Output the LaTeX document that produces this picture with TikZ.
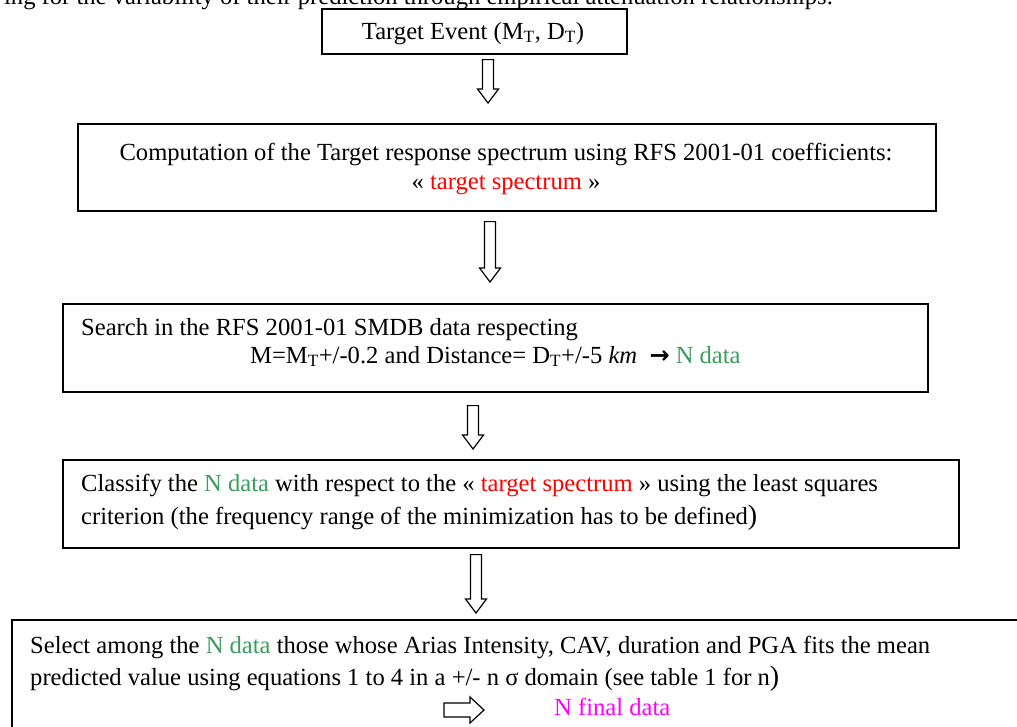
\documentclass[tikz,border=0pt]{standalone}
\usepackage{fontspec}
\setmainfont{Liberation Serif}
\newfontfamily\arrowfont{DejaVu Sans}
\usetikzlibrary{calc}
\definecolor{ngreen}{RGB}{60,155,95}
\definecolor{nred}{RGB}{255,0,0}
\definecolor{nmag}{RGB}{255,0,255}
\newcommand\Tsub{\textsubscript{T}}
\newcommand\bigparen{{\fontsize{28}{30}\selectfont)}}
% #1 x position, #2 from node, #3 to node, #4 top gap, #5 bottom gap
\newcommand\hollowdown[5]{%
  \draw[blockarrow] let \p1=(#2.south), \p2=(#3.north) in
    ({#1pt-5.5pt},{\y1-#4pt}) -- ({#1pt+5.5pt},{\y1-#4pt})
    -- ({#1pt+5.5pt},{\y2+#5pt+14pt}) -- ({#1pt+10.5pt},{\y2+#5pt+14pt})
    -- ({#1pt},{\y2+#5pt}) -- ({#1pt-10.5pt},{\y2+#5pt+14pt})
    -- ({#1pt-5.5pt},{\y2+#5pt+14pt}) -- cycle;}
\begin{document}
\begin{tikzpicture}[x=1pt,y=-1pt,
  font=\fontsize{24.6}{30}\selectfont,
  box/.style={draw, line width=1.6pt, anchor=north west, inner sep=0pt},
  txt/.style={anchor=base west, inner sep=0pt},
  ctxt/.style={anchor=base, inner sep=0pt},
  blockarrow/.style={draw, line width=1.2pt, fill=white, line join=miter}]
\path[use as bounding box] (0,0) rectangle (1017,726);
\clip (0,0) rectangle (1017,726);

% cropped running text
\node[anchor=base east, inner sep=0pt] (toptext) at (833,4)
  {ing for the variability of their prediction through empirical attenuation relationships.};

% boxes
\node[box, minimum width=305pt, minimum height=45pt] (b1) at (321,8) {};
\node[box, minimum width=858pt, minimum height=87pt] (b2) at (77,123) {};
\node[box, minimum width=865pt, minimum height=88pt] (b3) at (62,303) {};
\node[box, minimum width=896pt, minimum height=88pt] (b4) at (62,459) {};
\node[box, minimum width=1030pt, minimum height=130pt] (b5) at (11,619) {};

% texts
\node[ctxt] (t1) at (473,39) {Target Event (M\Tsub, D\Tsub)};

\node[ctxt] (t2a) at (506,160) {Computation of the Target response spectrum using RFS 2001-01 coefficients:};
\node[ctxt] (t2b) at (506,189) {« \textcolor{nred}{target spectrum} »};

\node[txt] (t3a) at (81,335) {Search in the RFS 2001-01 SMDB data respecting};
\node[txt] (t3b) at (250,363) {M=M\Tsub+/-0.2 and Distance= D\Tsub+/-5 \textit{km}\ \ {\arrowfont\bfseries\fontsize{24}{24}\selectfont →} \textcolor{ngreen}{N data}};

\node[txt] (t4a) at (81,491) {Classify the \textcolor{ngreen}{N data} with respect to the « \textcolor{nred}{target spectrum} » using the least squares};
\node[txt] (t4b) at (81,524) {criterion (the frequency range of the minimization has to be defined\bigparen};

\node[txt] (t5a) at (30,653) {Select among the \textcolor{ngreen}{N data} those whose Arias Intensity, CAV, duration and PGA fits the mean};
\node[txt] (t5b) at (30,685) {predicted value using equations 1 to 4 in a +/- n σ domain (see table 1 for n\bigparen};
\node[txt, text=nmag] (t5c) at (554,715) {N final data};

% connectors
\hollowdown{488}{b1}{b2}{5}{20}
\hollowdown{490}{b2}{b3}{10}{21}
\hollowdown{473}{b3}{b4}{13}{10}
\hollowdown{476}{b4}{b5}{6}{6}

% block arrow towards "N final data"
\draw[blockarrow] (444,703) -- (470,703) -- (470,697) -- (484,710)
  -- (470,723) -- (470,717) -- (444,717) -- cycle;
\end{tikzpicture}
\end{document}
